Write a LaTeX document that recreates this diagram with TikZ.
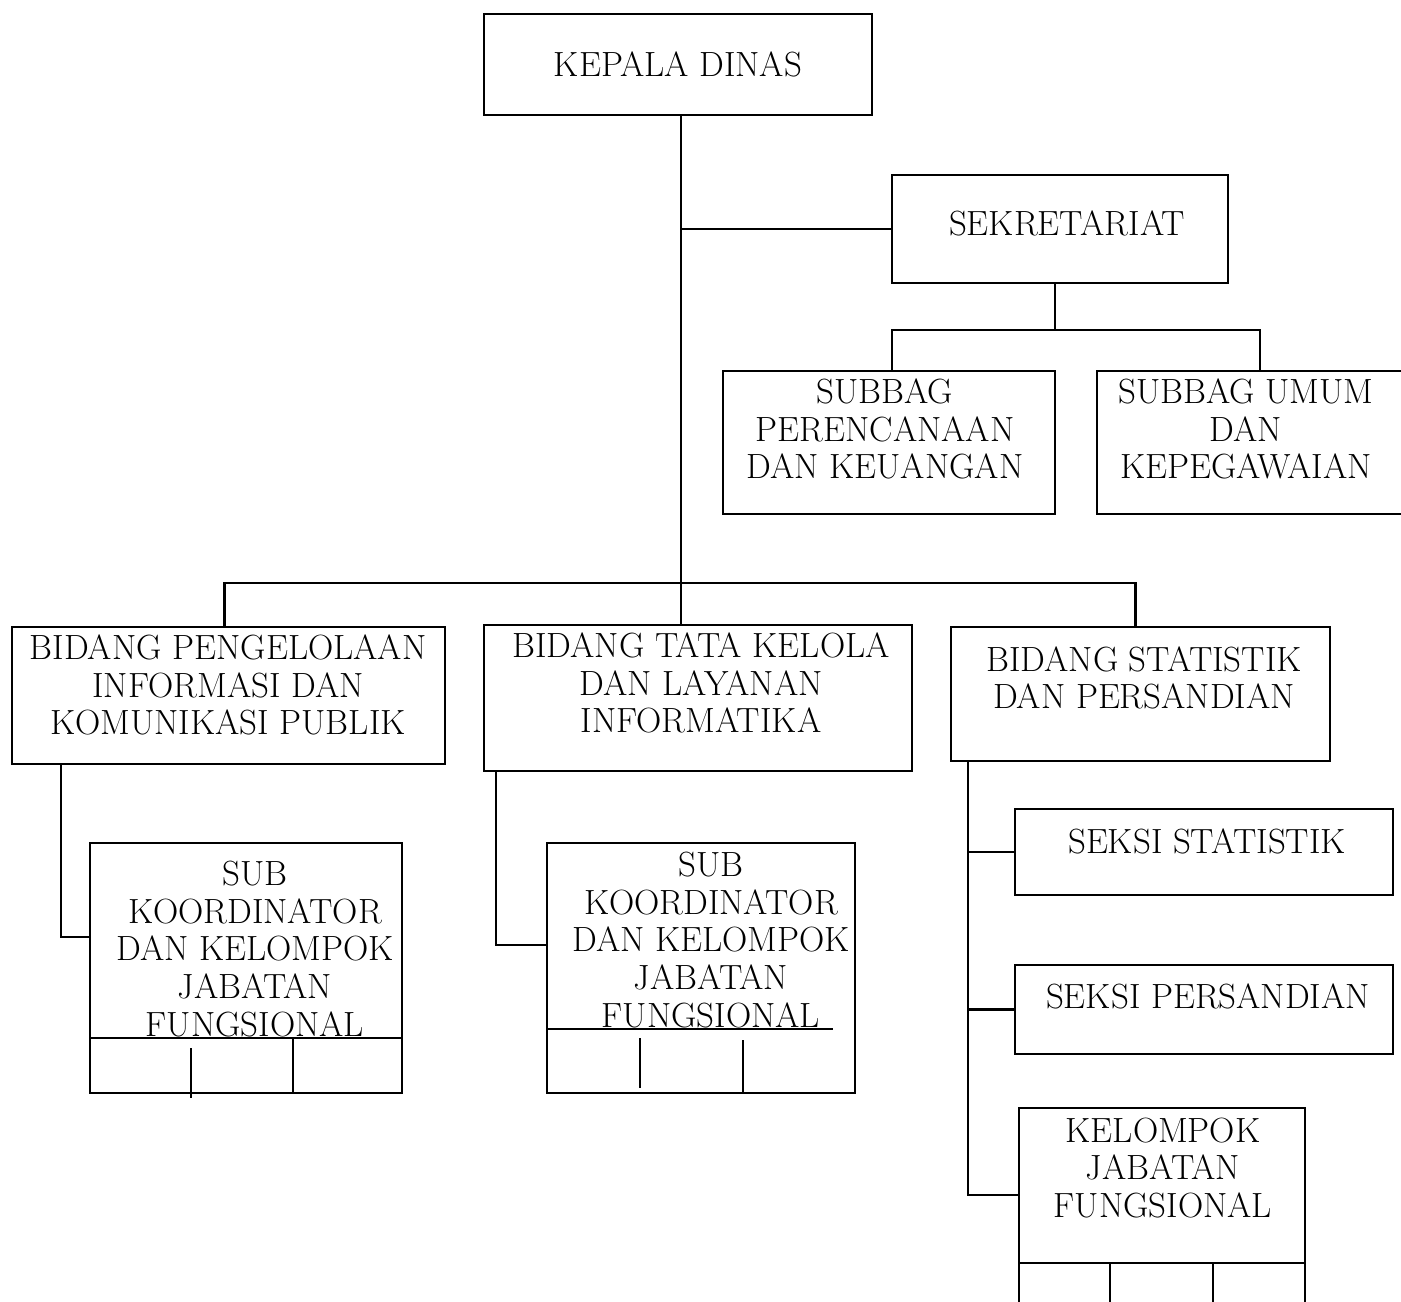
\documentclass[tikz,border=0pt]{standalone}
\usepackage{tikz}
\usetikzlibrary{calc}

\begin{document}
\begin{tikzpicture}[
  x=0.5pt, y=-0.5pt,
  box/.style={draw, line width=1.2pt, inner sep=0pt},
  txt/.style={align=center, inner sep=0pt, font=\fontsize{17.5}{18.8}\selectfont},
  link/.style={line width=1.2pt},
  cell/.style={line width=1.2pt}
]
  \useasboundingbox (0,0) rectangle (1401,1301);

  % Boxes
  \node[box, minimum width=194pt, minimum height=50.5pt] (kd) at (678,64.5) {};
  \node[box, minimum width=168pt, minimum height=54pt] (sek) at (1060,229) {};
  \node[box, minimum width=166pt, minimum height=71.5pt] (spk) at (889,442.5) {};
  \node[box, minimum width=163pt, minimum height=71.5pt] (suk) at (1260,442.5) {};
  \node[box, minimum width=216.5pt, minimum height=68.5pt] (bp) at (228.5,695.5) {};
  \node[box, minimum width=214pt, minimum height=73pt] (bt) at (698,698) {};
  \node[box, minimum width=189.5pt, minimum height=67pt] (bs) at (1140.5,694) {};
  \node[box, minimum width=156pt, minimum height=125pt] (kl) at (246,968) {};
  \node[box, minimum width=154pt, minimum height=125pt] (kt) at (701,968) {};
  \node[box, minimum width=189pt, minimum height=43pt] (ss) at (1204,852) {};
  \node[box, minimum width=189pt, minimum height=44.5pt] (sp) at (1204,1009.5) {};
  \node[box, minimum width=143pt, minimum height=101pt] (kj) at (1162,1209) {};

  % Texts
  \node[txt] (kd-t) at (678,64) {KEPALA DINAS};
  \node[txt] (sek-t) at (1067,223) {SEKRETARIAT};
  \node[txt] (spk-t) at (885,429) {SUBBAG\\PERENCANAAN\\DAN KEUANGAN};
  \node[txt] (suk-t) at (1246,429) {SUBBAG UMUM\\DAN\\KEPEGAWAIAN};
  \node[txt] (bp-t) at (228,685) {BIDANG PENGELOLAAN\\INFORMASI DAN\\KOMUNIKASI PUBLIK};
  \node[txt] (bt-t) at (701,683) {BIDANG TATA KELOLA\\DAN LAYANAN\\INFORMATIKA};
  \node[txt] (bs-t) at (1144,678) {BIDANG STATISTIK\\DAN PERSANDIAN};
  \node[txt] (kl-t) at (255,949) {SUB\\KOORDINATOR\\DAN KELOMPOK\\JABATAN\\FUNGSIONAL};
  \node[txt] (kt-t) at (711,940) {SUB\\KOORDINATOR\\DAN KELOMPOK\\JABATAN\\FUNGSIONAL};
  \node[txt] (ss-t) at (1207,841) {SEKSI STATISTIK};
  \node[txt] (sp-t) at (1208,996) {SEKSI PERSANDIAN};
  \node[txt] (kj-t) at (1163,1168) {KELOMPOK\\JABATAN\\FUNGSIONAL};

  % Connectors
  \coordinate (top) at ($(kd.south)+(3,0)$);
  \coordinate (bus) at (top |- 0,583);
  \draw[link] (top) -- (top |- bt.north);
  \draw[link] (sek.west) -- (sek.west -| top);
  \draw[link] ($(sek.south)+(-5,0)$) -- ++(0,46) coordinate (sj);
  \draw[link] ($(spk.north)+(3,0)$) |- (sj) -| (suk.north);
  \draw[link] ($(bp.north)+(-4,0)$) |- (bus) -| ($(bs.north)+(-5,0)$);
  \draw[link] (bp.south west) ++(50,0) |- ($(kl.west)+(0,-31)$);
  \draw[link] (bt.south west) ++(13,0) |- ($(kt.west)+(0,-23)$);
  \coordinate (sd) at ($(bs.south west)+(18,0)$);
  \draw[link] (sd) |- ($(kj.west)+(0,-14)$);
  \draw[link] (ss.west) -- (ss.west -| sd);
  \draw[link] (sp.west) -- (sp.west -| sd);

  % Cells
  \draw[cell] (90,1038) -- (402,1038);
  \draw[cell] (191,1048) -- (191,1098);
  \draw[cell] (293,1038) -- (293,1093);
  \draw[cell] (547,1029) -- (833,1029);
  \draw[cell] (640,1038) -- (640,1088);
  \draw[cell] (743,1040) -- (743,1093);
  \draw[cell] (1019,1263) -- (1305,1263);
  \foreach \x in {1110,1213} {
    \draw[cell] (\x,1263) -- (\x,1310);
  }
\end{tikzpicture}
\end{document}
